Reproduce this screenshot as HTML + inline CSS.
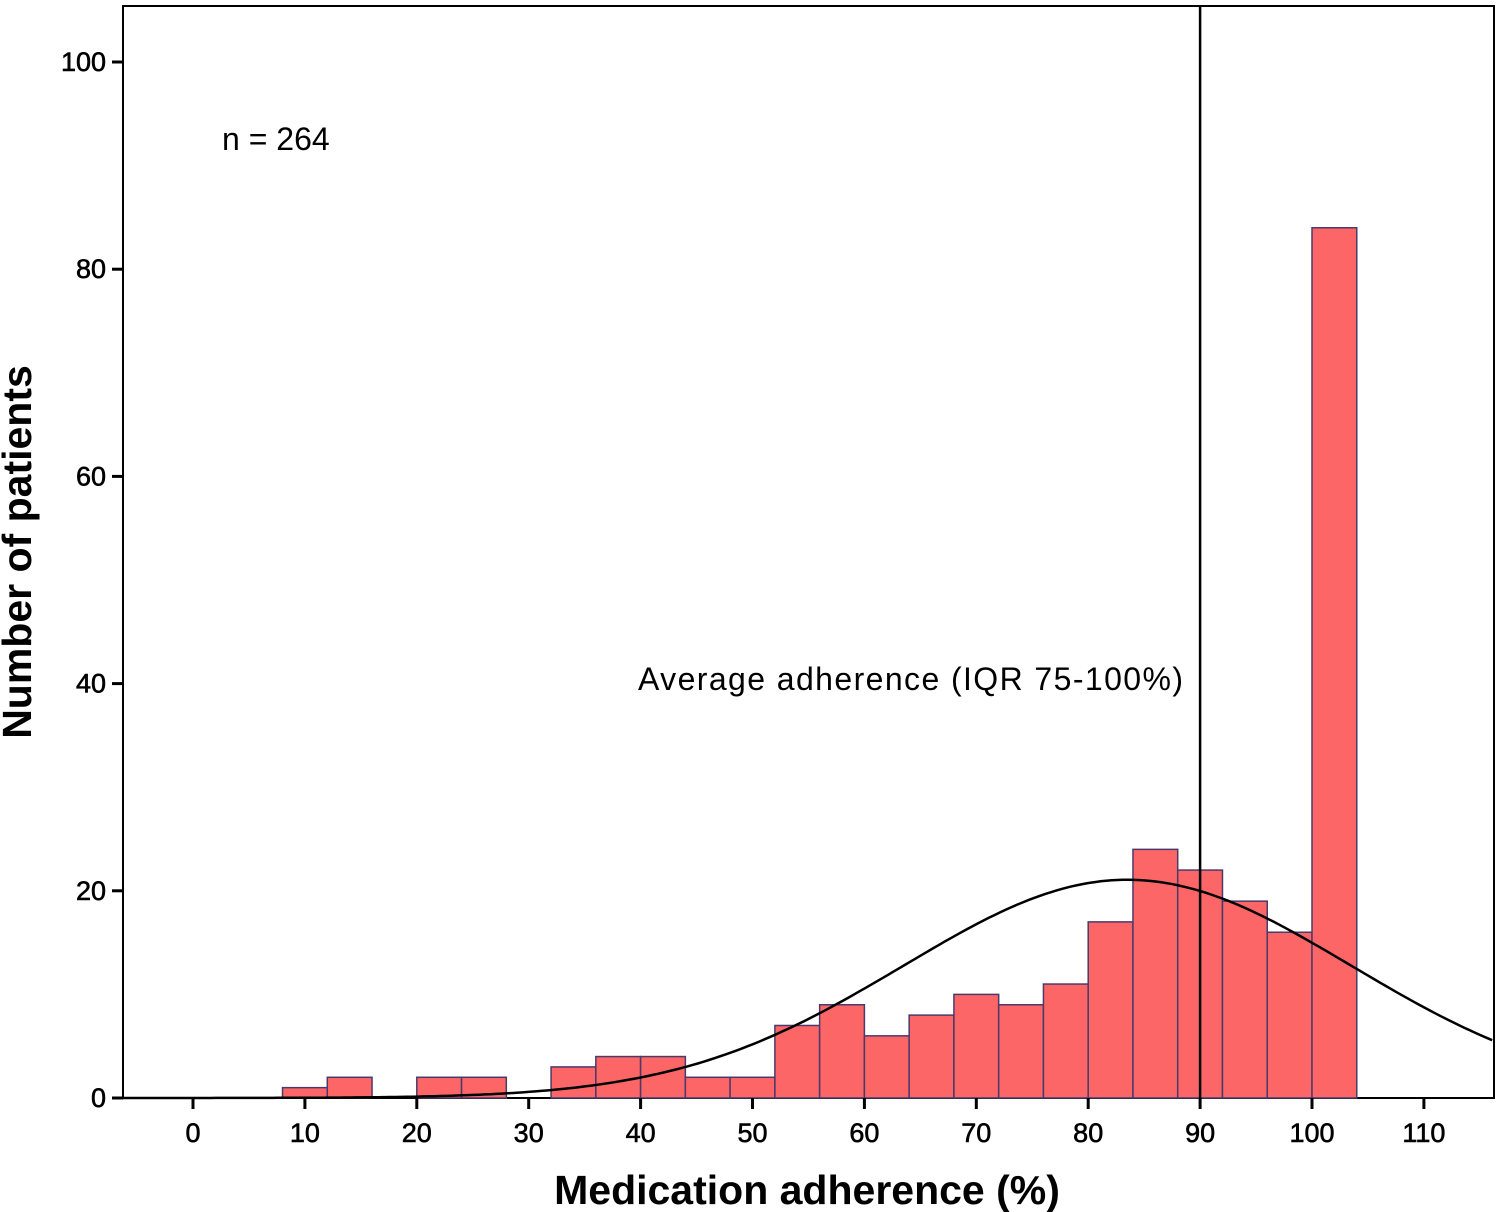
<!DOCTYPE html>
<html><head><meta charset="utf-8"><style>
html,body{margin:0;padding:0;background:#fff;}
svg{display:block;font-family:"Liberation Sans",Arial,sans-serif;}
</style></head><body>
<svg id="chart" width="1501" height="1212" viewBox="0 0 1501 1212">
<rect x="123" y="6" width="1371" height="1092" fill="#fff" stroke="#000" stroke-width="2"/>
<g id="bars"></g>
<g id="curve"></g>
<g id="axes"></g>
<text x="222" y="150" font-size="32">n = 264</text>
<text x="638" y="690" font-size="32" textLength="545">Average adherence (IQR 75-100%)</text>
<text x="807" y="1204" font-size="41" font-weight="bold" text-anchor="middle">Medication adherence (%)</text>
<text transform="translate(31,552) rotate(-90)" font-size="41" font-weight="bold" text-anchor="middle">Number of patients</text>
</svg>
<script>
const binStarts=[8,12,20,24,32,36,40,44,48,52,56,60,64,68,72,76,80,84,88,92,96,100];
const binCounts=[1,2,2,2,3,4,4,2,2,7,9,6,8,10,9,11,17,24,22,19,16,84];
const binWidth=4;
const xTicks=[0,10,20,30,40,50,60,70,80,90,100,110];
const yTicks=[0,20,40,60,80,100];
const curveMean=83.5, curveSd=20, curveN=264;
const refLineX=90;
const NS="http://www.w3.org/2000/svg";
const xs=v=>193+v*11.19;
const ys=v=>1098-v*10.36;
function mk(tag,attrs,parent){const e=document.createElementNS(NS,tag);for(const k in attrs)e.setAttribute(k,attrs[k]);parent.appendChild(e);return e;}
const bars=document.getElementById('bars');
binStarts.forEach((s,i)=>{
 const r=mk('rect',{x:xs(s),y:ys(binCounts[i]),width:xs(s+binWidth)-xs(s),height:ys(0)-ys(binCounts[i]),fill:'#fd6666',stroke:'#4a3a6a','stroke-width':1.5},bars);
 
 
});
const cg=document.getElementById('curve');
let d='';
for(let x=-6.4;x<=116.1;x+=0.5){const v=curveN*binWidth/(curveSd*Math.sqrt(2*Math.PI))*Math.exp(-0.5*((x-curveMean)/curveSd)**2);d+=(d?'L':'M')+xs(x).toFixed(1)+','+ys(v).toFixed(1);}
const p=mk('path',{d:d,fill:'none',stroke:'#000','stroke-width':2.5},cg);


const rl=mk('line',{x1:xs(refLineX),x2:xs(refLineX),y1:6,y2:1098,stroke:'#000','stroke-width':2.5},cg);


const ax=document.getElementById('axes');
xTicks.forEach(t=>{
 const l=mk('line',{x1:xs(t),x2:xs(t),y1:1098,y2:1109,stroke:'#000','stroke-width':3},ax);
 
 
 const tx=mk('text',{x:xs(t),y:1142,'font-size':27,'text-anchor':'middle',stroke:'#000','stroke-width':0.6},ax);
 tx.textContent=t;
 
 
});
yTicks.forEach(t=>{
 const l=mk('line',{x1:112,x2:123,y1:ys(t),y2:ys(t),stroke:'#000','stroke-width':3},ax);
 
 
 const tx=mk('text',{x:106,y:ys(t)+9,'font-size':27,'text-anchor':'end',stroke:'#000','stroke-width':0.6},ax);
 tx.textContent=t;
 
 
});
</script>
</body></html>
